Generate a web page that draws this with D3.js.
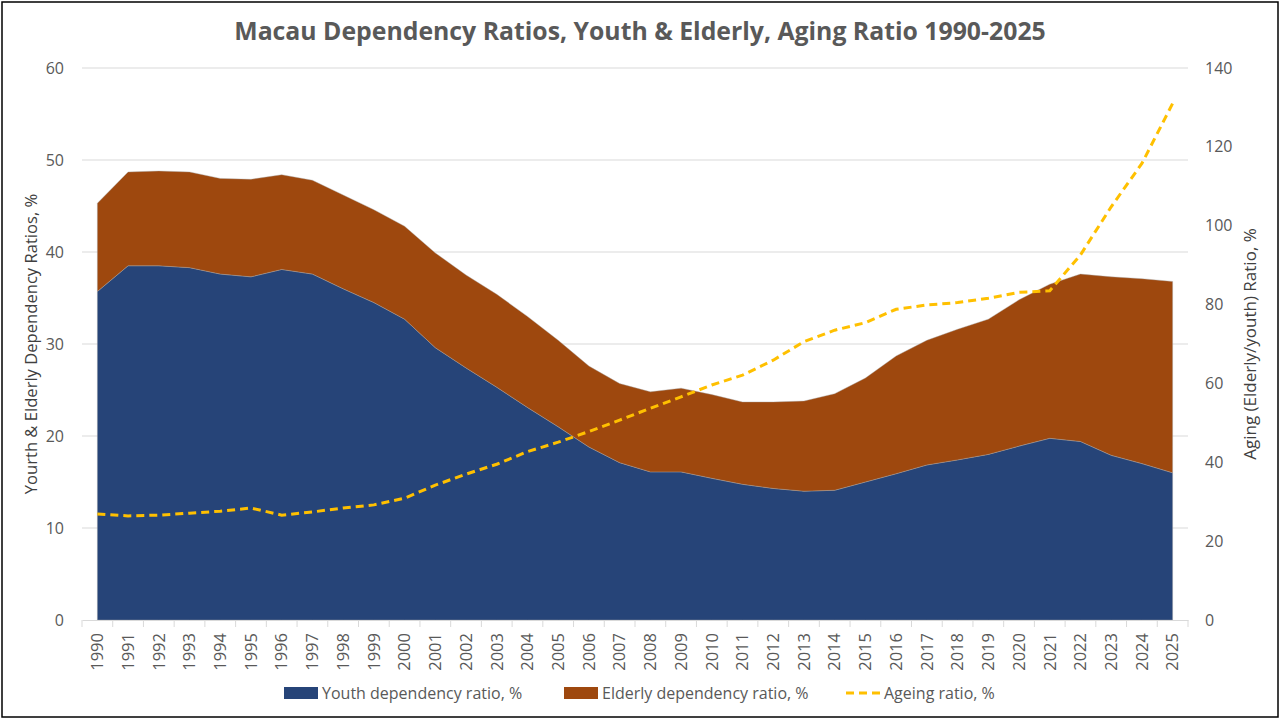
<!DOCTYPE html>
<html><head><meta charset="utf-8">
<script src="https://cdn.jsdelivr.net/npm/d3@7"></script>
<style>body{margin:0;background:#fff}svg{display:block}text{font-family:"Open Sans","Noto Sans",sans-serif}</style>
</head><body>
<script>
const years = d3.range(1990, 2026).map(String);
const youth = [35.7,38.5,38.5,38.3,37.6,37.3,38.1,37.6,36.0,34.5,32.7,29.6,27.4,25.3,23.1,21.0,18.8,17.1,16.1,16.1,15.4,14.75,14.3,14.0,14.1,15.0,15.9,16.85,17.4,18.0,18.9,19.75,19.4,17.9,17.0,16.0];
const elderly = [9.6,10.2,10.3,10.4,10.4,10.6,10.3,10.2,10.2,10.1,10.1,10.3,10.1,10.1,9.9,9.4,8.8,8.6,8.7,9.1,9.1,8.95,9.4,9.8,10.5,11.3,12.8,13.55,14.2,14.7,15.9,16.75,18.2,19.4,20.1,20.8];
const ageing = [26.9,26.4,26.6,27.1,27.6,28.4,26.6,27.4,28.4,29.2,30.9,34.2,37.0,39.5,42.7,45.1,47.8,50.7,53.7,56.6,59.6,62.1,65.9,70.6,73.5,75.4,78.8,79.9,80.5,81.6,83.1,83.5,92.6,104.8,115.8,131.0];
const leftTicks = [0,10,20,30,40,50,60];
const rightTicks = [0,20,40,60,80,100,120,140];
const title = "Macau Dependency Ratios, Youth & Elderly, Aging Ratio 1990-2025";
const seriesNames = ["Youth dependency ratio, %","Elderly dependency ratio, %","Ageing ratio, %"];
const leftTitle = "Yourth & Elderly Dependency Ratios, %";
const rightTitle = "Aging (Elderly/youth) Ratio, %";

const W=1280,H=720;
const m={l:82,r:1188,t:68,b:620};
const svg=d3.select("body").append("svg").attr("width",W).attr("height",H);
svg.append("rect").attr("x",2).attr("y",2).attr("width",1276).attr("height",715).attr("fill","#fff").attr("stroke","#000").attr("stroke-width",1.5);

const x=d3.scaleBand().domain(years).range([m.l,m.r]);
const xc=d=>x(d)+x.bandwidth()/2;
const yL=d3.scaleLinear().domain([0,60]).range([m.b,m.t]);
const yR=d3.scaleLinear().domain([0,140]).range([m.b,m.t]);
const grey="#595959";

// gridlines
svg.append("g").selectAll("line").data(leftTicks.slice(1)).join("line")
 .attr("x1",m.l).attr("x2",m.r).attr("y1",d=>yL(d)).attr("y2",d=>yL(d))
 .attr("stroke","#d9d9d9").attr("stroke-width",1);

const rows=years.map((y,i)=>({year:y,youth:youth[i],elderly:elderly[i]}));
const stack=d3.stack().keys(["youth","elderly"])(rows);
const colors=["#264478","#9E480E"];
const area=d3.area().x(d=>xc(d.data.year)).y0(d=>yL(d[0])).y1(d=>yL(d[1]));
svg.append("g").selectAll("path").data(stack).join("path")
 .attr("d",area).attr("fill",(d,i)=>colors[i]).attr("stroke","#a6a6a6").attr("stroke-width",0.4);

// x axis
const xAxis=d3.axisBottom(x).tickSize(0).tickPadding(8);
const gx=svg.append("g").attr("transform",`translate(0,${m.b})`).call(xAxis);
gx.select(".domain").attr("stroke","#d9d9d9");
gx.selectAll("text").attr("transform","rotate(-90)").attr("text-anchor","end")
 .attr("x",-13).attr("y",0).attr("dy","0.35em").attr("fill",grey).attr("font-size",16.5);
svg.append("g").selectAll("line").data(years.concat(["end"])).join("line")
 .attr("x1",(d,i)=>m.l+i*x.step()).attr("x2",(d,i)=>m.l+i*x.step())
 .attr("y1",m.b).attr("y2",m.b+7).attr("stroke","#d9d9d9");

// left axis
const gl=svg.append("g").attr("transform",`translate(${m.l},0)`).call(d3.axisLeft(yL).tickValues(leftTicks).tickSize(0).tickPadding(18));
gl.select(".domain").remove();
gl.selectAll("text").attr("fill",grey).attr("font-size",16);
// right axis
const gr=svg.append("g").attr("transform",`translate(${m.r},0)`).call(d3.axisRight(yR).tickValues(rightTicks).tickSize(0).tickPadding(17));
gr.select(".domain").remove();
gr.selectAll("text").attr("fill",grey).attr("font-size",16);

// ageing line
const line=d3.line().x((d,i)=>xc(years[i])).y(d=>yR(d));
svg.append("path").datum(ageing).attr("d",line).attr("fill","none")
 .attr("stroke","#FFC000").attr("stroke-width",3).attr("stroke-dasharray","8,5");

// titles
svg.append("text").attr("x",640).attr("y",40).attr("text-anchor","middle")
 .attr("font-size",24.8).attr("font-weight","bold").attr("fill",grey).text(title);
svg.append("text").attr("transform","translate(37,344) rotate(-90)").attr("text-anchor","middle")
 .attr("font-size",16.6).attr("fill","#404040").text(leftTitle);
svg.append("text").attr("transform","translate(1256,344) rotate(-90)").attr("text-anchor","middle")
 .attr("font-size",17).attr("fill","#404040").text(rightTitle);

// legend
const lg=svg.append("g");
const lx=[284,564,846];
lg.append("rect").attr("x",lx[0]).attr("y",687).attr("width",34).attr("height",12).attr("fill",colors[0]);
lg.append("rect").attr("x",lx[1]).attr("y",687).attr("width",34).attr("height",12).attr("fill",colors[1]);
lg.append("line").attr("x1",lx[2]).attr("x2",lx[2]+34).attr("y1",693).attr("y2",693)
 .attr("stroke","#FFC000").attr("stroke-width",3).attr("stroke-dasharray","8,5");
lg.selectAll("text.l").data(seriesNames).join("text").attr("class","l")
 .attr("x",(d,i)=>lx[i]+38).attr("y",699).attr("font-size",16).attr("fill",grey).text(d=>d);
</script>
</body></html>
